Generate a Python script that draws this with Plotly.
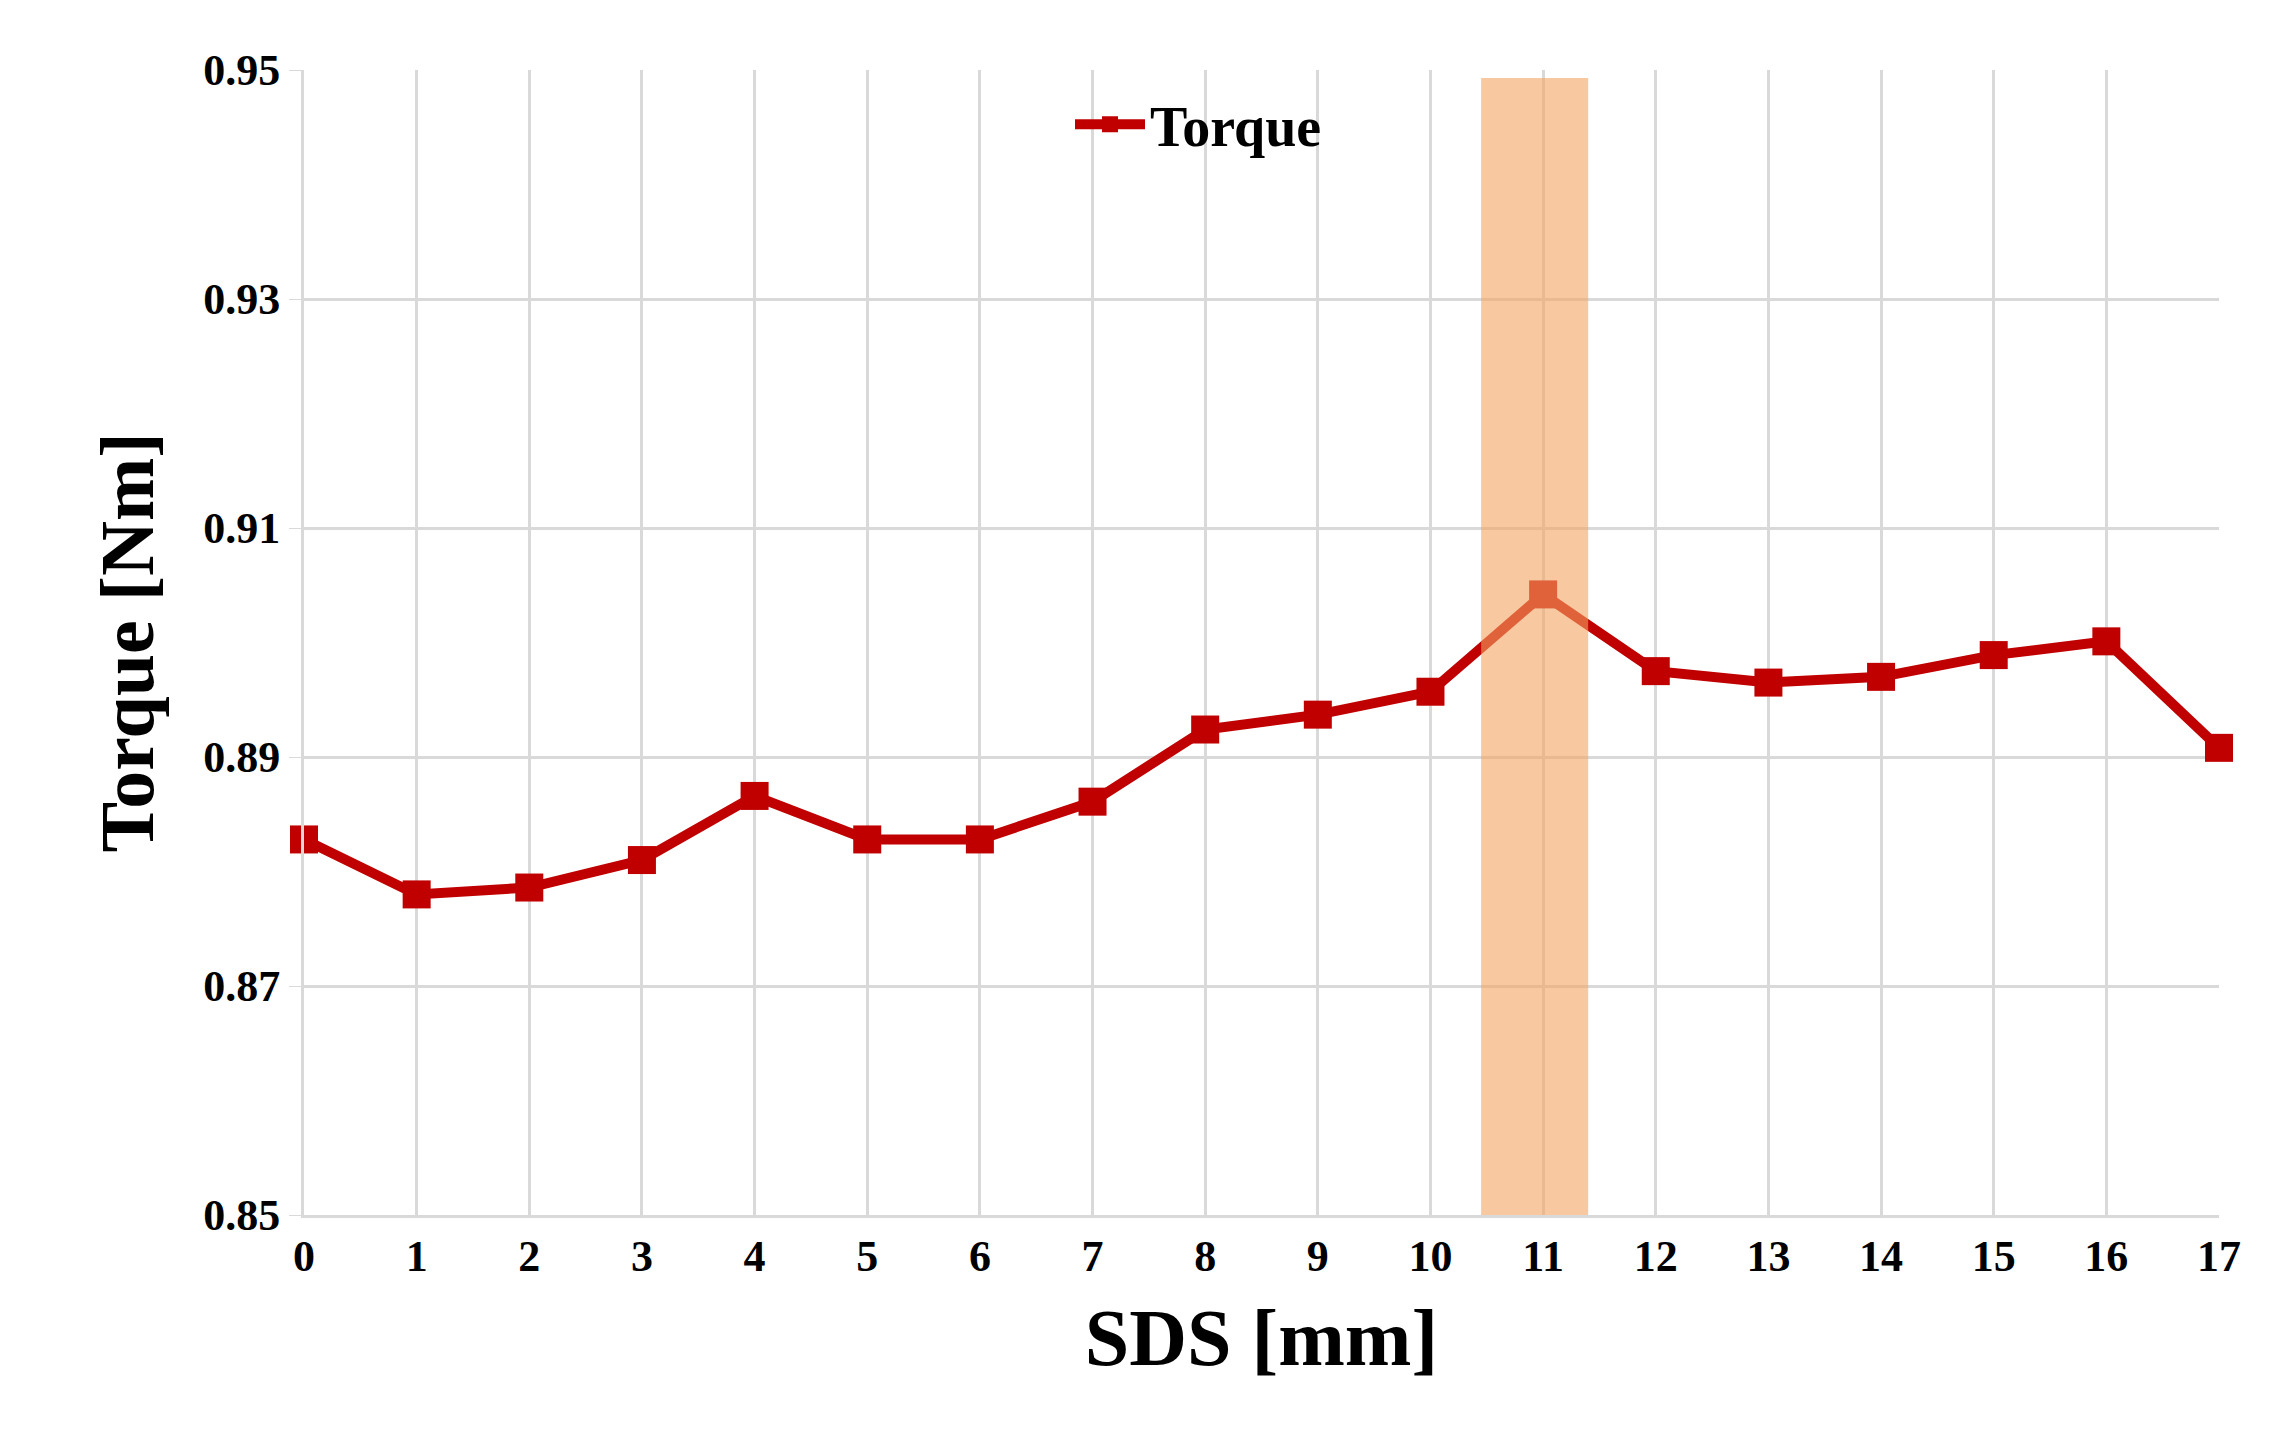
import plotly.graph_objects as go

sds = list(range(18))
torque = [0.8828, 0.8780, 0.8786, 0.8810, 0.8866, 0.8828, 0.8828, 0.8861, 0.8924, 0.8937,
          0.8957, 0.9042, 0.8975, 0.8965, 0.8970, 0.8989, 0.9001, 0.8908]
tick_vals = [0.85, 0.87, 0.89, 0.91, 0.93, 0.95]

font = "Liberation Serif"
fig = go.Figure()
fig.add_shape(type="rect", x0=10.45, x1=11.4, y0=0.85, y1=0.9493, xref="x", yref="y",
              fillcolor="rgba(244,164,96,0.6)", line_width=0, layer="above")
fig.add_trace(go.Scatter(x=sds, y=torque, mode="lines+markers", name="Torque", cliponaxis=False,
                         line=dict(color="#C00000", width=10),
                         marker=dict(symbol="square", size=28, color="#C00000")))
fig.update_layout(
    width=2273, height=1444, paper_bgcolor="white", plot_bgcolor="white",
    margin=dict(l=296, r=62, t=62, b=237),
    font=dict(family=font, color="black"),
    showlegend=True,
    legend=dict(x=0.40, y=0.99, xanchor="left", yanchor="top", bgcolor="rgba(0,0,0,0)",
                font=dict(size=56, family=font, weight="bold"), itemwidth=70),
    xaxis=dict(range=[0, 17], tickvals=sds, showgrid=True, gridcolor="#D9D9D9", gridwidth=3,
               showline=True, linecolor="#D9D9D9", linewidth=3, zeroline=False,
               tickfont=dict(size=44, family=font, weight="bold"),
               title=dict(text="SDS [mm]", font=dict(size=80, family=font, weight="bold"), standoff=30)),
    yaxis=dict(range=[0.85, 0.95], tickvals=tick_vals, tickformat=".2f", showgrid=True,
               gridcolor="#D9D9D9", gridwidth=3, showline=True, linecolor="#D9D9D9", linewidth=3,
               zeroline=False, ticks="outside", tickcolor="#D9D9D9", ticklen=12,
               tickfont=dict(size=44, family=font, weight="bold"),
               title=dict(text="Torque [Nm]", font=dict(size=76, family=font, weight="bold"), standoff=25)),
)
fig.write_html("out.html")
